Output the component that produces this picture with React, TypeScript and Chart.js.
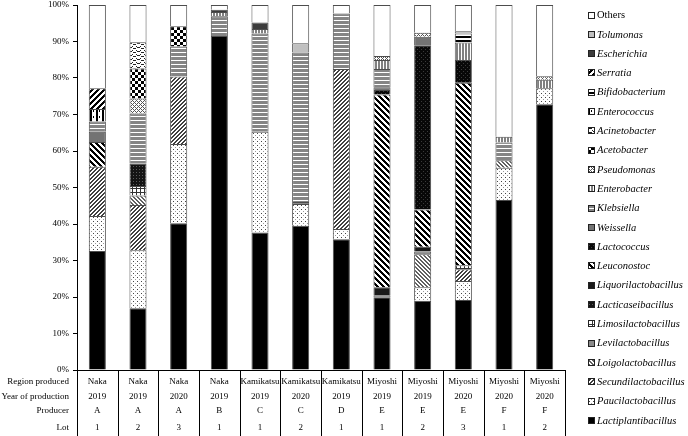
import React, { useEffect, useRef } from "react";
import { Chart, registerables } from "chart.js";

Chart.register(...registerables);

const regions = ["Naka", "Naka", "Naka", "Naka", "Kamikatsu", "Kamikatsu", "Kamikatsu", "Miyoshi", "Miyoshi", "Miyoshi", "Miyoshi", "Miyoshi"];
const years = ["2019", "2019", "2020", "2019", "2019", "2020", "2019", "2019", "2019", "2020", "2020", "2020"];
const producers = ["A", "A", "A", "B", "C", "C", "D", "E", "E", "E", "F", "F"];
const lots = ["1", "2", "3", "1", "1", "2", "1", "1", "2", "3", "1", "2"];
const rowLabels = ["Region produced", "Year of production", "Producer", "Lot"];
const yTicks = [0, 10, 20, 30, 40, 50, 60, 70, 80, 90, 100];

// values in %, bottom of stack first
const lactiplantibacillus = [32.6, 16.9, 40.2, 91.5, 37.7, 39.5, 35.8, 19.9, 19.0, 19.2, 46.6, 72.8];
const paucilactobacillus = [9.6, 15.9, 21.7, 0, 27.6, 6.0, 2.8, 0, 3.7, 5.2, 8.8, 4.4];
const secundilactobacillus = [13.5, 12.4, 18.5, 0, 0, 0, 43.9, 0, 0, 3.2, 0, 0];
const loigolactobacillus = [0, 2.6, 0, 0, 0, 0, 0, 0, 9.0, 0, 2.1, 0];
const levilactobacillus = [0, 0, 0, 0, 0, 0.5, 0, 0.6, 0.8, 0, 0, 0];
const limosilactobacillus = [0, 2.6, 0, 0, 0, 0, 0, 0, 0, 1.1, 0, 0];
const lacticaseibacillus = [0, 6.2, 0, 0, 0, 0, 0, 0, 0, 0, 0, 0];
const liquorilactobacillus = [0, 0, 0, 0, 0, 0, 0, 2.2, 1.3, 0, 0, 0];
const leuconostoc = [6.8, 0, 0, 0, 0, 0, 0, 52.8, 10.2, 50.0, 0, 0];
const lactococcus = [0, 0, 0, 0, 0, 0, 0, 1.2, 45.0, 6.2, 0, 0];
const weissella = [2.8, 0, 0, 0, 0, 0, 0, 0.8, 2.3, 0, 0, 0];
const klebsiella = [2.8, 13.7, 8.2, 5.4, 26.9, 41.0, 15.2, 5.0, 0, 0, 4.8, 0];
const enterobacter = [0, 0, 0, 1.2, 1.2, 0, 0, 2.4, 0, 4.8, 1.6, 2.3];
const pseudomonas = [0, 4.1, 0, 0, 0, 0, 0, 1.1, 1.1, 0, 0, 1.0];
const acetobacter = [0, 8.2, 5.6, 0, 0, 0, 0, 0, 0, 0, 0, 0];
const acinetobacter = [0, 7.2, 0, 0, 0, 0, 0, 0, 0, 0, 0, 0];
const enterococcus = [3.4, 0, 0, 0, 0, 0, 0, 0, 0, 0, 0, 0];
const bifidobacterium = [0, 0, 0, 0, 0, 0, 0, 0, 0, 2.5, 0, 0];
const serratia = [5.7, 0, 0, 0, 0, 0, 0, 0, 0, 0, 0, 0];
const escherichia = [0, 0, 0, 0.6, 1.8, 0, 0, 0, 0, 0, 0, 0];
const tolumonas = [0, 0, 0, 0, 0, 2.5, 0, 0, 0, 0.6, 0, 0];
const others = [22.8, 10.2, 5.8, 1.3, 4.8, 10.5, 2.3, 14.0, 7.6, 7.2, 36.1, 19.5];

type Fn = (x: number, y: number) => string | null;
function pat(w: number, h: number, fn: Fn, bg = "#ffffff"): CanvasPattern | string {
  const c = document.createElement("canvas");
  c.width = w;
  c.height = h;
  const g = c.getContext("2d");
  if (!g) return bg;
  g.fillStyle = bg;
  g.fillRect(0, 0, w, h);
  for (let y = 0; y < h; y++) {
    for (let x = 0; x < w; x++) {
      const col = fn(x, y);
      if (col) {
        g.fillStyle = col;
        g.fillRect(x, y, 1, 1);
      }
    }
  }
  return g.createPattern(c, "repeat") || bg;
}

function makeFills(): Record<string, CanvasPattern | string> {
  return {
    Lactiplantibacillus: "#000000",
    Paucilactobacillus: pat(4, 4, (x, y) => (x === 1 && y === 1 ? "#444" : x === 3 && y === 3 ? "#999" : null)),
    Secundilactobacillus: pat(4, 4, (x, y) => ((x + y) % 4 < 2 ? "#404040" : null)),
    Loigolactobacillus: pat(4, 4, (x, y) => ((x - y + 8) % 4 < 2 ? "#606060" : null)),
    Levilactobacillus: "#8a8a8a",
    Limosilactobacillus: pat(4, 4, (x, y) => (x === 0 || y === 0 ? "#333" : null)),
    Lacticaseibacillus: pat(3, 3, (x, y) => (x === 1 && y === 1 ? "#5a5a5a" : null), "#141414"),
    Liquorilactobacillus: "#1a1a1a",
    Leuconostoc: pat(6, 6, (x, y) => ((x - y + 12) % 6 < 3 ? "#000" : null)),
    Lactococcus: pat(4, 4, (x, y) => ((x === 1 && y === 1) || (x === 3 && y === 3) ? "#3a3a3a" : null), "#080808"),
    Weissella: "#737373",
    Klebsiella: pat(1, 4, (x, y) => (y === 0 ? null : "#858585")),
    Enterobacter: pat(3, 1, (x) => (x < 2 ? "#808080" : null)),
    Pseudomonas: pat(4, 4, (x, y) => ((x + y) % 4 === 0 || (x - y + 8) % 4 === 0 ? "#555" : null)),
    Acetobacter: pat(6, 6, (x, y) => ((Math.floor(x / 3) + Math.floor(y / 3)) % 2 === 0 ? "#000" : null)),
    Acinetobacter: pat(8, 4, (x, y) => (y === Math.round(1.5 + 1.5 * Math.sin((2 * Math.PI * x) / 8)) ? "#222" : null)),
    Enterococcus: pat(6, 6, (x, y) => (x === 0 || x === 1 || (x === 3 && y > 1 && y < 4) ? "#000" : null)),
    Bifidobacterium: pat(1, 4, (x, y) => (y < 2 ? "#000" : null)),
    Serratia: pat(6, 6, (x, y) => ((x + y) % 6 < 3 ? "#000" : null)),
    Escherichia: "#3c3c3c",
    Tolumonas: "#c0c0c0",
    Others: "#ffffff",
  };
}

const seriesList: [string, number[]][] = [
  ["Lactiplantibacillus", lactiplantibacillus],
  ["Paucilactobacillus", paucilactobacillus],
  ["Secundilactobacillus", secundilactobacillus],
  ["Loigolactobacillus", loigolactobacillus],
  ["Levilactobacillus", levilactobacillus],
  ["Limosilactobacillus", limosilactobacillus],
  ["Lacticaseibacillus", lacticaseibacillus],
  ["Liquorilactobacillus", liquorilactobacillus],
  ["Leuconostoc", leuconostoc],
  ["Lactococcus", lactococcus],
  ["Weissella", weissella],
  ["Klebsiella", klebsiella],
  ["Enterobacter", enterobacter],
  ["Pseudomonas", pseudomonas],
  ["Acetobacter", acetobacter],
  ["Acinetobacter", acinetobacter],
  ["Enterococcus", enterococcus],
  ["Bifidobacterium", bifidobacterium],
  ["Serratia", serratia],
  ["Escherichia", escherichia],
  ["Tolumonas", tolumonas],
  ["Others", others],
];

const SERIF = '"Liberation Serif", "Times New Roman", serif';

export default function App() {
  const ref = useRef<HTMLCanvasElement | null>(null);
  useEffect(() => {
    const canvas = ref.current;
    if (!canvas) return;
    const fills = makeFills();
    const datasets = seriesList.map(([name, vals]) => ({
      label: name,
      data: vals.map((v) => (v === 0 ? null : v)),
      backgroundColor: fills[name],
      borderColor: "#4d4d4d",
      borderWidth: 1,
      barPercentage: 0.42,
      categoryPercentage: 1,
    }));

    const tablePlugin = {
      id: "tableAndLegend",
      afterDraw(chart: any) {
        const ctx = chart.ctx as CanvasRenderingContext2D;
        const area = chart.chartArea;
        const xs = chart.scales.x;
        const n = regions.length;
        const w = (area.right - area.left) / n;
        ctx.save();
        ctx.strokeStyle = "#000";
        ctx.lineWidth = 1;
        ctx.beginPath();
        ctx.moveTo(area.left, Math.round(area.bottom) + 0.5);
        ctx.lineTo(area.right, Math.round(area.bottom) + 0.5);
        for (let k = 0; k <= n; k++) {
          const x = Math.round(area.left + k * w) + 0.5;
          ctx.moveTo(x, area.bottom);
          ctx.lineTo(x, chart.height);
        }
        ctx.stroke();

        const rowsY = [382, 397, 411, 428];
        const rows = [regions, years, producers, lots];
        ctx.fillStyle = "#000";
        ctx.font = `9px ${SERIF}`;
        ctx.textBaseline = "middle";
        ctx.textAlign = "right";
        rowLabels.forEach((lab, r) => ctx.fillText(lab, area.left - 8, rowsY[r]));
        ctx.textAlign = "center";
        rows.forEach((row, r) => {
          row.forEach((t, i) => {
            ctx.fillText(t, xs.getPixelForValue(i), rowsY[r]);
          });
        });

        // legend
        const items = [...seriesList].reverse();
        const lx = 588;
        ctx.textAlign = "left";
        items.forEach(([name], i) => {
          const cy = 15 + i * 19.3;
          ctx.fillStyle = fills[name] as any;
          ctx.fillRect(lx, Math.round(cy - 3.5), 7, 7);
          ctx.strokeStyle = "#222";
          ctx.strokeRect(lx + 0.5, Math.round(cy - 3.5) + 0.5, 6, 6);
          ctx.fillStyle = "#000";
          ctx.font = name === "Others" ? `10.5px ${SERIF}` : `italic 10.5px ${SERIF}`;
          ctx.fillText(name, lx + 9, cy + 0.5);
        });
        ctx.restore();
      },
    };

    const chart = new Chart(canvas, {
      type: "bar",
      data: { labels: lots.map((l, i) => `${regions[i]} ${years[i]} ${producers[i]} ${l}`), datasets },
      options: {
        animation: false,
        responsive: false,
        devicePixelRatio: 1,
        layout: { padding: { left: 0, right: 123, top: 5, bottom: 66 } },
        plugins: { legend: { display: false }, tooltip: { enabled: false } },
        scales: {
          x: { stacked: true, display: false },
          y: {
            stacked: true,
            min: 0,
            max: 100,
            afterFit: (s: any) => {
              s.width = 77;
              s.paddingTop = 0;
              s.paddingBottom = 0;
            },
            afterBuildTicks: (s: any) => {
              s.ticks = yTicks.map((v) => ({ value: v }));
            },
            ticks: {
              color: "#000",
              font: { family: SERIF, size: 9 },
              padding: 4,
              callback: (v: any) => `${v}%`,
            },
            grid: { drawOnChartArea: false, drawTicks: true, tickLength: 4, color: "#000" },
            border: { display: true, color: "#000", width: 1 },
          },
        },
      },
      plugins: [tablePlugin],
    });
    return () => chart.destroy();
  }, []);
  return (
    <div style={{ position: "fixed", left: 0, top: 0, width: 688, height: 436, background: "#fff" }}>
      <canvas ref={ref} width={688} height={436} style={{ width: 688, height: 436 }} />
    </div>
  );
}
